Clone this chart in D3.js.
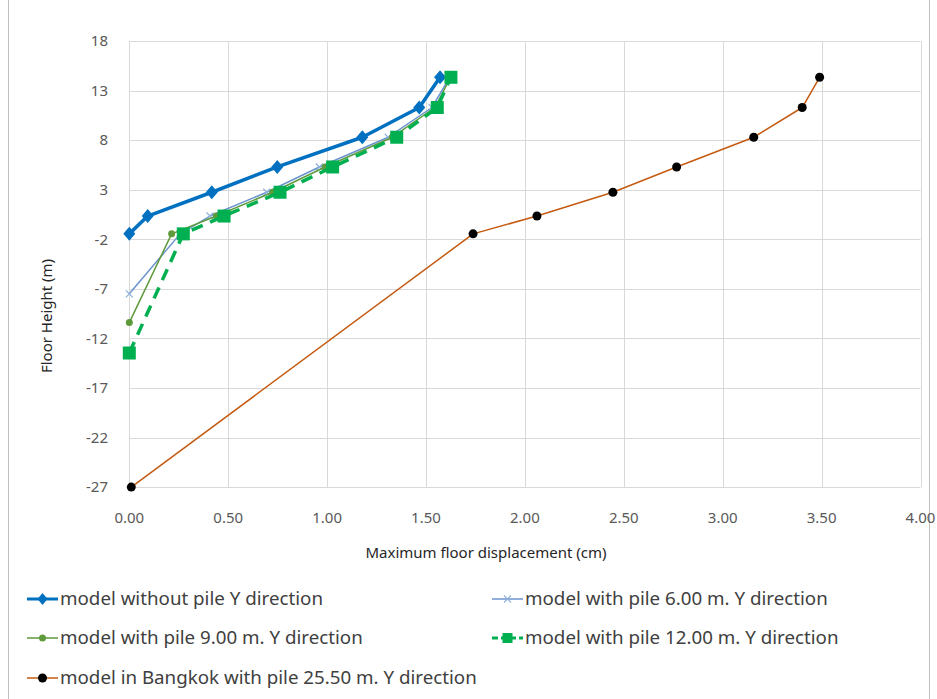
<!DOCTYPE html>
<html>
<head>
<meta charset="utf-8">
<script src="https://cdn.jsdelivr.net/npm/d3@7"></script>
<style>
  body { margin: 0; background: #fff; }
  svg { display: block; font-family: "Noto Sans", sans-serif; }
</style>
</head>
<body>
<div id="chart"></div>
<script>
// floor levels shared by all series (m)
const floorHeights = [-1.45, 0.35, 2.75, 5.3, 8.3, 11.3, 14.35];

const noPileX = [0, 0.093, 0.417, 0.748, 1.178, 1.466, 1.571];
const noPileY = floorHeights;

const pile6X = [0, 0.257, 0.408, 0.695, 0.961, 1.309, 1.53, 1.62];
const pile6Y = [-7.5].concat(floorHeights);

const pile9X = [0, 0.214, 0.44, 0.725, 0.99, 1.33, 1.545, 1.625];
const pile9Y = [-10.4].concat(floorHeights);

const pile12X = [0, 0.273, 0.479, 0.762, 1.028, 1.352, 1.557, 1.626];
const pile12Y = [-13.47].concat(floorHeights);

const bangkokX = [0.01, 1.738, 2.061, 2.445, 2.767, 3.157, 3.402, 3.49];
const bangkokY = [-27].concat(floorHeights);

const xTicks = [0, 0.5, 1, 1.5, 2, 2.5, 3, 3.5, 4];
const yTicks = [-27, -22, -17, -12, -7, -2, 3, 8, 13, 18];

const seriesNames = [
  "model without pile Y direction",
  "model with pile 6.00 m. Y direction",
  "model with pile 9.00 m. Y direction",
  "model with pile 12.00 m. Y direction",
  "model in Bangkok with pile 25.50 m. Y direction",
];

const zip = (xs, ys) => xs.map((x, i) => ({ x: x, y: ys[i] }));

const series = [
  { name: seriesNames[0], pts: zip(noPileX, noPileY), color: "#0070c0", width: 3.5, dash: null, marker: "diamond", mfill: "#0070c0", msize: 12 },
  { name: seriesNames[1], pts: zip(pile6X, pile6Y), color: "#6a93cf", width: 1.5, dash: null, marker: "x", mfill: "#8fb0dc", msize: 7 },
  { name: seriesNames[2], pts: zip(pile9X, pile9Y), color: "#5e9a3b", width: 1.5, dash: null, marker: "circle", mfill: "#5e9a3b", msize: 7 },
  { name: seriesNames[3], pts: zip(pile12X, pile12Y), color: "#00b050", width: 3.5, dash: "12,8", marker: "square", mfill: "#00b050", msize: 13 },
  { name: seriesNames[4], pts: zip(bangkokX, bangkokY), color: "#c55a11", width: 1.5, dash: null, marker: "circle", mfill: "#000000", msize: 9 },
];

const W = 937, H = 699;
const svg = d3.select("#chart").append("svg").attr("width", W).attr("height", H);

// outer chart border
svg.append("rect")
  .attr("x", 8.5).attr("y", -5).attr("width", 921).attr("height", 720)
  .attr("fill", "none").attr("stroke", "#bfbfbf").attr("stroke-width", 1);

const x = d3.scaleLinear().domain([0, 4]).range([129.3, 920.5]);
const y = d3.scaleLinear().domain([-27, 18]).range([487.1, 41.1]);

// gridlines
svg.append("g").selectAll("line").data(yTicks).join("line")
  .attr("x1", x(0)).attr("x2", x(4))
  .attr("y1", (d) => Math.round(y(d)) + 0.5).attr("y2", (d) => Math.round(y(d)) + 0.5)
  .attr("stroke", "#d9d9d9").attr("stroke-width", 1);

svg.append("g").selectAll("line").data(xTicks).join("line")
  .attr("y1", y(18)).attr("y2", y(-27))
  .attr("x1", (d) => Math.round(x(d)) + 0.5).attr("x2", (d) => Math.round(x(d)) + 0.5)
  .attr("stroke", "#d9d9d9").attr("stroke-width", 1);

// tick labels
svg.append("g").selectAll("text").data(yTicks).join("text")
  .attr("x", 108).attr("y", (d) => y(d))
  .attr("dy", "0.35em").attr("text-anchor", "end")
  .attr("font-size", 15).attr("fill", "#595959")
  .text((d) => d);

svg.append("g").selectAll("text").data(xTicks).join("text")
  .attr("x", (d) => x(d)).attr("y", 518)
  .attr("dy", "0.35em").attr("text-anchor", "middle")
  .attr("font-size", 15).attr("fill", "#595959")
  .text(d3.format(".2f"));

// axis titles
svg.append("text")
  .attr("x", 486).attr("y", 553).attr("dy", "0.35em")
  .attr("text-anchor", "middle").attr("font-size", 15).attr("fill", "#262626")
  .text("Maximum floor displacement (cm)");

svg.append("text")
  .attr("transform", "translate(47,316) rotate(-90)")
  .attr("dy", "0.35em")
  .attr("text-anchor", "middle").attr("font-size", 15).attr("fill", "#262626")
  .text("Floor Height (m)");

function drawMarker(g, s, cx, cy) {
  const r = s.msize / 2;
  if (s.marker === "diamond") {
    g.append("path")
      .attr("d", `M${cx},${cy - r - 1}L${cx + r},${cy}L${cx},${cy + r + 1}L${cx - r},${cy}Z`)
      .attr("fill", s.mfill);
  } else if (s.marker === "square") {
    g.append("rect")
      .attr("x", cx - r).attr("y", cy - r).attr("width", s.msize).attr("height", s.msize)
      .attr("fill", s.mfill);
  } else if (s.marker === "circle") {
    g.append("circle").attr("cx", cx).attr("cy", cy).attr("r", r).attr("fill", s.mfill);
  } else if (s.marker === "x") {
    g.append("path")
      .attr("d", `M${cx - r},${cy - r}L${cx + r},${cy + r}M${cx - r},${cy + r}L${cx + r},${cy - r}`)
      .attr("stroke", s.mfill).attr("stroke-width", 1.2).attr("fill", "none");
  }
}

const line = d3.line().x((d) => x(d.x)).y((d) => y(d.y));

series.forEach((s) => {
  const g = svg.append("g");
  g.append("path")
    .datum(s.pts)
    .attr("d", line)
    .attr("fill", "none")
    .attr("stroke", s.color)
    .attr("stroke-width", s.width)
    .attr("stroke-dasharray", s.dash)
    .attr("stroke-linejoin", "round");
  s.pts.forEach((p) => drawMarker(g, s, x(p.x), y(p.y)));
});

// legend
const legendPos = [
  [27, 599], [492, 599],
  [27, 638], [492, 638],
  [27, 678],
];

const legend = svg.append("g");
series.forEach((s, i) => {
  const [lx, ly] = legendPos[i];
  const g = legend.append("g");
  g.append("line")
    .attr("x1", lx).attr("x2", lx + 31).attr("y1", ly).attr("y2", ly)
    .attr("stroke", s.color).attr("stroke-width", Math.min(s.width, 3))
    .attr("stroke-dasharray", s.dash ? "6,3" : null);
  const sm = Object.assign({}, s, { msize: Math.min(s.msize, 10) });
  drawMarker(g, sm, lx + 15.5, ly);
  g.append("text")
    .attr("class", "legend-text")
    .attr("x", lx + 33).attr("y", ly).attr("dy", "0.35em")
    .attr("font-size", 18).attr("fill", "#404040")
    .text(s.name);
});

// the original font is narrower, squeeze the legend text to the same width
const first = legend.select(".legend-text").node();
const k = 263 / first.getComputedTextLength();
legend.selectAll(".legend-text").each(function () {
  const w = this.getComputedTextLength();
  d3.select(this).attr("textLength", w * k).attr("lengthAdjust", "spacingAndGlyphs");
});
</script>
</body>
</html>
